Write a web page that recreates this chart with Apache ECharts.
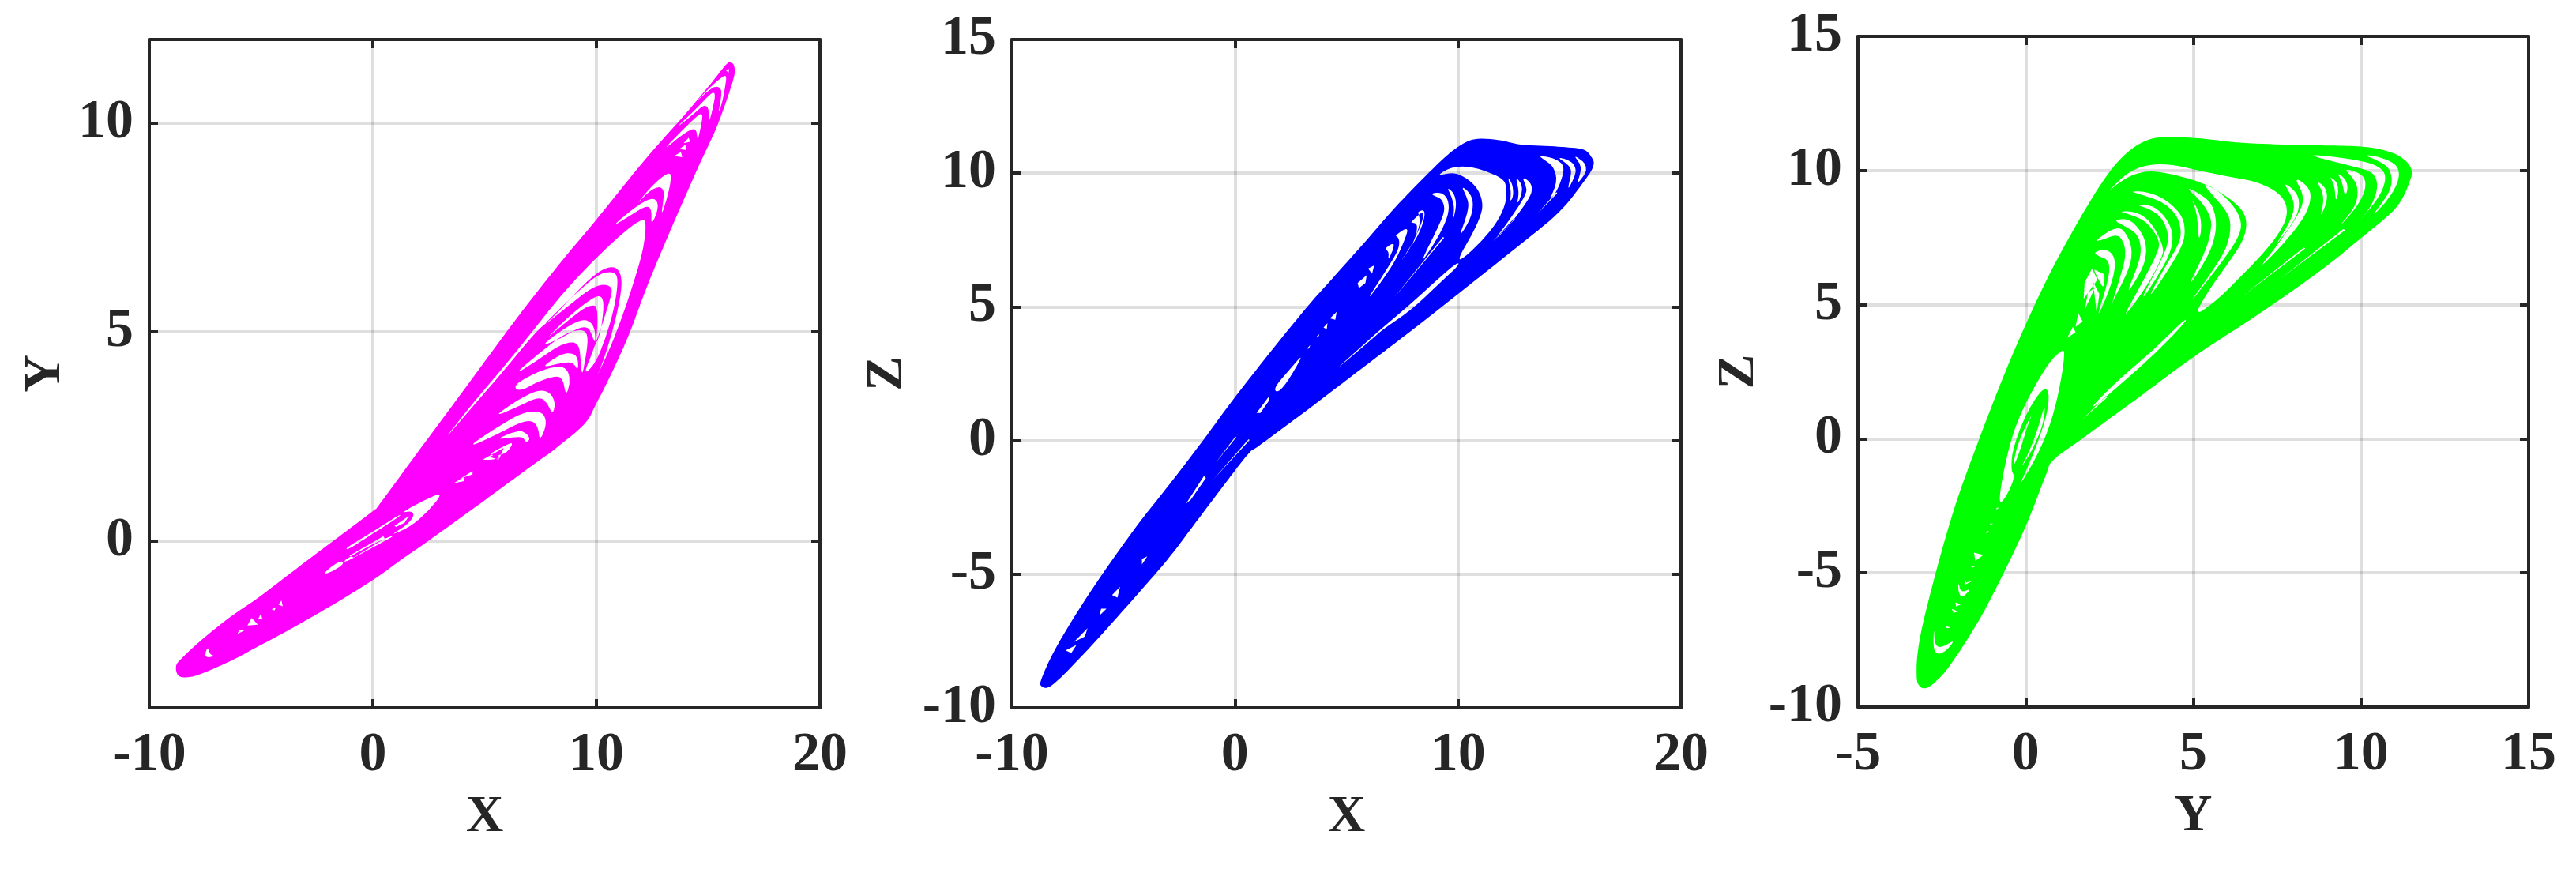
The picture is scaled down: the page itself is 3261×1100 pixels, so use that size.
<!DOCTYPE html>
<html><head><meta charset="utf-8">
<style>html,body{margin:0;padding:0;background:#fff}#c{width:3261px;height:1100px}</style>
<script src="https://cdn.jsdelivr.net/npm/echarts@6/dist/echarts.min.js"></script>
</head><body><div id="c"></div>
<script>
// ---- Panel 1: X-Y phase portrait ----
const xyOutline=[[-8.8,-3.0],[-8.52,-2.8],[-7.63,-2.36],[-6.37,-1.82],[-5.1,-1.35],[-3.4,-0.66],[-2.06,-0.12],[0,0.71],[0.27,0.85],[1.94,2.07],[4.14,3.66],[6.6,5.44],[8.55,6.76],[10,7.69],[12.2,9.14],[13.95,10.2],[15.2,11],[15.8,11.4],[16.03,11.45],[16.18,11.32],[16.1,11],[15.4,9.93],[14.44,8.81],[13.2,7.29],[12.23,6.04],[11.48,4.97],[10.76,4.1],[10,3.29],[9.47,2.8],[8.17,2.21],[7.33,1.88],[5.03,0.98],[2.49,0],[1.2,-0.48],[0,-0.94],[-1.94,-1.58],[-3.84,-2.16],[-5.1,-2.52],[-6.37,-2.88],[-7.76,-3.2],[-8.39,-3.27],[-8.71,-3.22]];
const xyGaps=[
[[2.98,2.28],[4.51,3.32],[5.81,4.13],[7.23,5.07],[8.41,5.88],[9.82,6.69],[11.24,7.4],[12.07,7.72],[12.21,7.63],[12.18,7.26],[12.01,6.79],[11.59,6.05],[11.12,5.31],[10.53,4.5],[9.65,3.53],[10.18,4.1],[10.71,4.97],[11.06,5.78],[11.15,6.25],[11,6.49],[10.71,6.57],[10.24,6.49],[9.59,6.22],[8.76,5.75],[7.93,5.28],[7.34,5.04],[5.81,4.04],[4.51,3.24]],
[[7.46,5.07],[8.41,5.58],[9.35,6.05],[10.12,6.39],[10.71,6.45],[10.94,6.35],[10.94,6.05],[10.77,5.51],[10.41,4.84],[9.94,4.23],[9.41,3.96],[9.82,4.5],[10.3,5.24],[10.65,5.85],[10.71,6.02],[10.53,6.13],[10.12,6.13],[9.59,5.98],[8.64,5.58]],
[[7.64,4.77],[8.64,5.31],[9.47,5.68],[10.06,5.88],[10.3,5.81],[10.32,5.51],[10.18,4.97],[9.96,4.67],[10.06,5.17],[10.03,5.58],[9.88,5.65],[9.47,5.58],[8.64,5.24]],
[[7.46,4.64],[8.52,5.07],[9.35,5.31],[9.76,5.24],[9.94,5.04],[9.96,4.7],[9.76,4.97],[9.64,5.11],[9.23,5.11],[8.41,4.84]],
[[6.28,3.96],[7.46,4.5],[8.52,4.94],[9.29,5.07],[9.59,4.97],[9.61,4.7],[9.49,4.3],[9.35,3.93],[9.29,4.37],[9.23,4.67],[8.94,4.77],[8.29,4.67],[7.23,4.27]],
[[7.46,4.13],[8.41,4.47],[8.94,4.5],[9.18,4.37],[9.18,4.06],[8.97,4.27],[8.52,4.27]],
[[6.28,3.73],[7.46,4.07],[8.41,4.2],[8.76,4.06],[8.82,3.76],[8.64,3.46],[8.52,3.83],[8.29,3.96],[7.46,3.83],[6.52,3.56]],
[[5.34,2.95],[6.52,3.39],[7.46,3.63],[7.99,3.53],[8.17,3.26],[8.03,3.02],[7.82,3.29],[7.46,3.46],[6.52,3.22]],
[[4.16,2.21],[5.34,2.65],[6.75,3.09],[7.46,3.09],[7.7,2.99],[7.76,2.75],[7.46,2.38],[7.4,2.72],[7.11,2.89],[6.52,2.82],[5.58,2.55]],
[[5.45,2.42],[6.52,2.65],[6.87,2.58],[7.05,2.42],[6.81,2.35],[6.75,2.48],[6.28,2.48]],
[[5.1,2.05],[5.93,2.28],[6.26,2.36],[6.16,2.21],[5.81,2.05]],
[[5.22,2.01],[5.63,2.11],[5.63,1.94]],
[[15.78,11.27],[15.94,11.29],[15.91,11.2]],
[[14.37,10.46],[15.02,10.83],[15.67,11.13],[15.82,11.13],[15.78,10.93],[15.63,10.49],[15.43,10.19],[15.59,10.63],[15.59,10.83],[15.31,10.89],[14.9,10.73]],
[[13.42,9.82],[14.43,10.32],[15.14,10.73],[15.31,10.73],[15.28,10.52],[15.02,9.95],[15.04,10.36],[14.8,10.44],[14.43,10.25]],
[[12.89,9.31],[13.96,9.89],[14.61,10.22],[14.76,10.21],[14.69,9.95],[14.52,9.55],[14.49,9.82],[14.31,9.87],[13.84,9.72]],
[[13.9,9.52],[14.13,9.65],[14.19,9.55]],
[[13.72,9.38],[13.98,9.48],[14.02,9.35]],
[[13.48,9.21],[13.78,9.31],[13.84,9.18]],
[[11.71,8],[12.54,8.54],[13.31,8.86],[13.34,8.61],[13.13,8.14],[12.89,7.77],[13.01,8.2],[13.01,8.41],[12.77,8.49],[12.3,8.34]],
[[10.65,7.5],[11.59,7.93],[12.36,8.2],[12.71,8.17],[12.77,7.93],[12.44,7.53],[12.48,7.93],[12.24,8.03],[11.47,7.77]],
[[3.19,1.18],[2.24,0.96],[1.23,0.66],[1.73,0.72],[1.86,0.59],[1.48,0.36],[0.72,0.11],[1.67,0.33],[2.49,0.71]],
[[-1.24,-0.18],[-0.04,0.2],[1.23,0.64],[1.23,0.59],[-0.04,0.16],[-1.11,-0.22]],
[[0.97,0.36],[1.61,0.59],[1.42,0.43],[1.04,0.33]],
[[-1.05,-0.36],[0.47,0.11],[0.53,0.05],[-0.86,-0.4]],
[[-1.3,-0.47],[-0.04,-0.08],[1.23,0.2],[0.03,-0.15],[-1.24,-0.52]],
[[-2.25,-0.81],[-1.81,-0.59],[-1.37,-0.47],[-1.3,-0.56],[-1.81,-0.74]],
[[-4.22,-1.53],[-4.09,-1.43],[-4.03,-1.57]],
[[-5.61,-2.03],[-5.42,-1.85],[-5.14,-2.01]],
[[-5.13,-1.87],[-5,-1.74],[-4.95,-1.87]],
[[-7.53,-2.75],[-7.38,-2.52],[-7.28,-2.74],[-7.03,-2.75],[-7.38,-2.8]],
[[-6.05,-2.23],[-5.99,-2.14],[-5.73,-2.14]],
[[-4.53,-1.64],[-4.34,-1.6],[-4.4,-1.67]],
[[3.63,1.38],[4.08,1.53],[4.08,1.43]],
[[3.95,1.5],[4.46,1.67],[4.46,1.59]],
[[4.9,1.94],[5.85,2.22],[5.66,1.97],[5.28,1.94]]
];
// ---- Panel 2: X-Z ----
const xzOutline=[[-8.68,-9.19],[-8.63,-8.82],[-7.95,-7.64],[-6.49,-5.67],[-4.54,-3.35],[-2.92,-1.62],[-1.39,0.05],[0,1.62],[1.79,3.52],[3.32,5.08],[4.38,6.07],[5.91,7.5],[7.33,8.85],[8.88,10.17],[9.85,10.89],[10.7,11.26],[11.8,11.24],[12.9,11.06],[14.49,10.99],[15.59,10.89],[16,10.58],[16.07,10.27],[15.7,9.75],[14.49,8.51],[12.54,7.16],[10,5.48],[7.66,3.95],[5.22,2.4],[4.15,1.72],[2.78,0.85],[1.08,-0.2],[0.67,-0.44],[0,-1.13],[-1.92,-3.25],[-3.07,-4.5],[-5.27,-6.6],[-6.98,-8.16],[-8.2,-9.15]];
const xzGaps=[
[[9.02,9.88],[9.67,10.23],[10.5,10.26],[11.33,10.06],[12.06,9.78],[12.18,9.44],[12.16,8.9],[11.8,8.21],[11.09,7.47],[10.14,6.74],[10.02,6.83],[10.68,7.77],[11.07,8.5],[11.11,8.95],[10.85,9.49],[10.2,9.93],[9.67,10.03]],
[[4.2,2.41],[6.15,3.87],[6.59,4.2],[7.77,5.03],[9.08,6.02],[9.96,6.66],[10.08,6.59],[9.14,5.85],[7.89,4.87],[6.59,4.13],[6.15,3.8]],
[[8.78,9.24],[9.25,9.29],[9.55,9.05],[9.61,8.6],[9.37,8.01],[8.84,7.23],[8.25,6.54],[9.25,8.21],[9.43,8.7],[9.25,9.05],[8.95,9.14]],
[[9.49,9.49],[9.85,9.24],[9.94,8.75],[9.73,8.11],[9.85,8.65],[9.73,9.1]],
[[10.14,9.54],[10.56,9.24],[10.7,8.85],[10.56,8.26],[10.02,7.57],[10.32,8.21],[10.5,8.8],[10.38,9.14]],
[[8.19,8.55],[8.52,8.65],[8.48,8.21],[8.13,7.52],[7.3,6.54],[8.01,7.42],[8.31,8.11],[8.25,8.45]],
[[7.86,8.15],[8.5,8.64],[8.38,8.1],[7.91,7.32],[7.09,5.94],[8.09,7.51],[8.2,8.1],[7.97,8.15]],
[[7.15,7.66],[7.8,8.01],[7.62,7.51],[7.09,6.53],[5.68,4.96],[7.2,6.9],[7.39,7.33],[7.33,7.61]],
[[6.68,7.17],[7.15,7.42],[7.09,7.12],[6.86,6.73],[6.91,7.07]],
[[13.58,10.67],[14.29,10.57],[14.76,10.32],[14.7,9.88],[14.41,9.29],[14.05,8.9],[14.47,9.69],[14.29,10.23],[13.93,10.47]],
[[14.41,10.62],[15.06,10.47],[15.3,10.18],[15.24,9.88],[14.88,9.29],[15.12,10.08],[14.94,10.32]],
[[15.18,10.67],[15.59,10.47],[15.77,10.23],[15.71,9.98],[15.3,9.54],[15.53,10.08],[15.47,10.37]],
[[12.22,9.88],[12.45,9.59],[12.49,9.14],[12.33,8.9],[12.39,9.34]],
[[12.57,9.88],[12.87,9.59],[12.87,9.19],[12.63,8.8],[12.75,9.29]],
[[12.87,9.88],[13.28,9.64],[13.34,9.29],[12.99,8.8],[12.27,8.01],[11.56,7.42],[12.27,8.2],[13.1,9.24],[13.04,9.54]],
[[11.56,7.44],[12.51,8.31],[12.55,8.28]],
[[13.58,8.5],[14.41,9.29],[14.45,9.25]],
[[7.09,5.3],[9.33,7.61],[9.38,7.58]],
[[5.5,5.89],[5.91,6.19],[5.85,5.89],[5.56,5.7]],
[[5.97,6.43],[6.24,6.55],[6.15,6.24]],
[[4.26,4.57],[4.56,4.81],[4.5,4.52]],
[[3.97,4.22],[4.15,4.39],[4.12,4.17]],
[[3.65,3.88],[3.79,3.98],[3.73,3.86]],
[[3.23,3.44],[3.38,3.57],[3.32,3.44]],
[[3.11,3.29],[2.5,2.7],[1.73,1.96],[1.91,1.77],[2.38,2.21]],
[[0.97,1.03],[1.5,1.62],[1.55,1.52],[1.14,1.03]],
[[-2.19,-2.36],[-1.39,-1.33],[-1.3,-1.4],[-1.98,-2.21]],
[[-0.98,-1.47],[0.61,0.05],[0.66,0.02]],
[[-0.86,-0.83],[0.02,0.15],[0.06,0.12]],
[[-4.17,-4.43],[-3.93,-4.33],[-4.17,-4.64]],
[[-5.51,-5.78],[-5.15,-5.47],[-5.27,-5.88]],
[[-6,-6.29],[-5.76,-6.29],[-6.07,-6.54]],
[[-7.59,-7.85],[-7.1,-7.64],[-7.34,-7.95]],
[[-7.22,-7.54],[-6.61,-7.02],[-6.73,-7.33]]
];
// ---- Panel 3: Y-Z ----
const yzOutline=[[-3.25,-8.74],[-3.2,-7.81],[-2.92,-6.16],[-2.19,-2.85],[-1.37,0.04],[-0.39,3.14],[0.59,5.83],[1.57,8.1],[2.39,9.75],[3.04,10.68],[3.69,11.16],[4.35,11.24],[5.16,11.2],[6.47,11.03],[8.1,10.95],[10,10.89],[10.88,10.68],[11.29,10.41],[11.5,10.06],[11.47,9.65],[11.05,8.62],[10,7.48],[8.76,6.24],[7.12,4.79],[5,3.04],[3.2,1.38],[1.73,0.04],[0.83,-0.79],[0.59,-1.4],[-0.07,-3.47],[-1.21,-6.36],[-2.19,-8.33],[-2.68,-9.05],[-3,-9.3],[-3.2,-9.15]];
const yzGaps=[
[[2.41,9.15],[3.03,9.93],[3.66,10.23],[4.37,10.23],[5.16,10],[6.18,9.74],[6.89,9.59],[7.52,9.2],[7.79,8.75],[7.79,8.21],[7.52,7.58],[7.04,6.84],[6.42,6.05],[5.71,5.17],[5,4.53],[5.47,5.56],[6.1,6.64],[6.49,7.38],[6.61,8.02],[6.49,8.51],[6.1,8.95],[5.39,9.49],[4.53,9.83],[3.74,10],[3.19,9.86],[2.72,9.49]],
[[2.01,1.25],[2.8,2.23],[3.82,3.31],[4.76,4.48],[4.8,4.39],[3.9,3.21],[2.88,2.08],[2.01,1.15]],
[[6.42,5.27],[8.3,7.13],[8.34,7.09]],
[[7.59,5.96],[9.48,7.82],[9.52,7.77]],
[[10.03,10.62],[10.66,10.47],[11.05,10.23],[11.16,9.88],[11.05,9.39],[10.74,8.8],[10.27,8.21],[10.82,9.1],[10.94,9.59],[10.86,10.08],[10.58,10.32]],
[[8.3,10.62],[9.48,10.47],[10.35,10.27],[10.7,9.98],[10.74,9.59],[10.54,9],[10.03,8.21],[9.48,7.58],[10.19,8.41],[10.5,9.2],[10.46,9.78],[10.19,10.03],[9.48,10.23]],
[[9.48,10.08],[9.95,9.93],[10.15,9.64],[10.11,9.15],[9.8,8.51],[9.25,7.77],[9.88,8.7],[9.91,9.39],[9.76,9.73]],
[[9.28,9.93],[9.54,9.69],[9.62,9.34],[9.52,9],[9.44,9.59]],
[[9.05,9.78],[9.28,9.59],[9.34,9.2],[9.25,8.8],[9.21,9.49]],
[[8.66,9.64],[8.97,9.34],[9,8.85],[8.77,8.21],[8.89,8.8],[8.85,9.24]],
[[7.99,9.78],[8.46,9.39],[8.52,8.9],[8.3,8.21],[7.67,7.23],[6.89,6.25],[7.52,7.23],[8.22,8.51],[8.3,9.1]],
[[7.67,9.59],[8.07,9.2],[8.18,8.8],[8.07,8.21],[7.36,7.04],[7.91,8.12],[8.03,8.7],[7.91,9.1]],
[[5.24,9.59],[5.79,9.2],[6.26,8.61],[6.46,8.02],[6.34,7.48],[5.94,6.74],[5.31,5.71],[4.84,4.98],[5.47,6.05],[6.02,7.13],[6.14,8.02],[5.98,8.51],[5.63,9]],
[[4.72,9.44],[5.46,8.95],[5.66,8.41],[5.69,7.72],[5.47,6.84],[4.76,5.47],[5.39,7.04],[5.55,7.87],[5.51,8.31],[5.24,8.85]],
[[4.92,9],[5.2,8.41],[5.25,7.82],[5.16,7.33],[5.12,8.41]],
[[3.07,9.24],[3.66,9.2],[4.21,8.9],[4.69,8.31],[4.76,7.72],[4.69,7.23],[4.29,6.35],[3.58,5.07],[4.13,6.35],[4.57,7.23],[4.65,7.72],[4.53,8.31],[4.13,8.8],[3.58,9.05]],
[[3.23,8.75],[3.82,8.7],[4.21,8.21],[4.41,7.63],[4.33,6.94],[3.9,5.96],[3.35,4.98],[4.13,6.84],[4.29,7.53],[4.09,8.21],[3.74,8.55]],
[[2.72,8.49],[3.35,8.46],[3.78,8.02],[4.13,7.13],[4.06,6.74],[3.66,5.76],[2.8,4.29],[3.5,5.86],[3.98,7.04],[3.98,7.43],[3.66,8.02],[3.27,8.31]],
[[2.6,8.16],[3.11,8.21],[3.51,7.63],[3.62,7.04],[3.51,6.35],[2.96,5.27],[3.35,6.45],[3.46,7.04],[3.35,7.63],[2.96,7.92]],
[[2.01,7.33],[2.76,7.98],[3.07,7.53],[3.19,6.94],[3.07,6.25],[2.41,4.68],[2.01,2.82],[2.91,6.35],[2.99,6.94],[2.91,7.38],[2.72,7.63],[2.33,7.43]],
[[2.01,6.94],[2.37,7.09],[2.64,6.84],[2.68,6.35],[2.48,5.47],[2.09,4.39],[2.41,5.66],[2.52,6.35],[2.44,6.69],[2.2,6.79]],
[[2.01,6.35],[2.2,6.2],[2.37,6.15],[2.33,5.56],[2.17,5.96]],
[[2.01,5.86],[2.2,5.39],[2.12,4.68]],
[[1.76,5.83],[1.98,6.34],[2.14,5.93],[1.73,5.21]],
[[1.86,5.45],[2.06,5.62],[1.76,4.79]],
[[1.57,4.69],[1.7,4.38],[1.49,4.17]],
[[1.41,4.17],[1.49,3.97],[1.24,3.76]],
[[1.13,3.35],[0.75,2.93],[0.34,2.11],[-0.15,0.97],[-0.47,-0.17],[-0.72,-1.61],[-0.8,-2.48],[-0.56,-2.13],[-0.31,-1.4],[-0.44,-1.2],[-0.39,-0.37],[0.02,0.97],[0.51,1.9],[0.7,1.8],[0.67,1.07],[0.42,0.04],[0.02,-1.2],[-0.26,-1.92],[0.42,-0.48],[0.83,0.87],[1.08,2.31],[1.16,3.14]],
[[0.56,1.59],[0.1,0.76],[-0.26,-0.27],[-0.39,-1.1],[-0.2,-0.58],[0.02,0.35],[0.23,1.07]],
[[0.59,1.38],[0.54,0.56],[0.18,-0.48],[-0.18,-1.16],[0.07,-0.58],[0.34,0.25]],
[[-1.54,-4.24],[-1.26,-4.33],[-1.5,-4.55]],
[[-1.61,-4.73],[-1.46,-4.73],[-1.61,-4.82]],
[[-1.83,-5.12],[-1.77,-5.36],[-1.57,-5.29],[-1.79,-5.43]],
[[-2.01,-5.31],[-1.93,-5.75],[-1.61,-5.56],[-1.89,-5.95],[-2.01,-5.71]],
[[-2.1,-6.1],[-1.93,-6.17],[-2.07,-6.25]],
[[-2.2,-6.34],[-2.01,-6.44],[-2.15,-6.49]],
[[-2.4,-6.98],[-2.23,-7.03],[-2.34,-7.06]],
[[-2.73,-6.98],[-2.72,-7.67],[-2.52,-7.81],[-2.09,-7.47],[-2.36,-7.91],[-2.64,-8.06],[-2.76,-7.81]],
[[-1.14,-3.43],[-1.06,-3.47],[-1.18,-3.53]],
[[-1.05,-3.16],[-0.97,-3.16],[-1.08,-3.23]],
[[-0.87,-2.57],[-0.79,-2.57],[-0.87,-2.64]],
[[1.69,0.72],[2.4,1.6],[2.44,1.55]]
];
// ---- Axes ----
const xTicks12=[-10,0,10,20];
const yTicks1=[0,5,10];
const zTicks=[-10,-5,0,5,10,15];
const yTicks3=[-5,0,5,10,15];

const INK='#262626', FONT='Liberation Serif';
const panels=[
 {outline:xyOutline,gaps:xyGaps,color:'#ff00ff',rect:{left:189,top:50,width:849,height:846},xName:'X',yName:'Y',xMin:-10,xMax:20,xVals:xTicks12,yMin:-4,yMax:12,yVals:yTicks1,yGap:98},
 {outline:xzOutline,gaps:xzGaps,color:'#0000ff',rect:{left:1281,top:50,width:847,height:846},xName:'X',yName:'Z',xMin:-10,xMax:20,xVals:xTicks12,yMin:-10,yMax:15,yVals:zTicks,yGap:124},
 {outline:yzOutline,gaps:yzGaps,color:'#00ff00',rect:{left:2352,top:46,width:849,height:849},xName:'Y',yName:'Z',xMin:-5,xMax:15,xVals:yTicks3,yMin:-10,yMax:15,yVals:zTicks,yGap:116}
];
function signedArea(p){let a=0;for(let i=0;i<p.length;i++){const q=p[(i+1)%p.length];a+=p[i][0]*q[1]-q[0]*p[i][1];}return a;}
const f=v=>v.toFixed(2);
function gapPath(p){
  let r=p.slice(); if(signedArea(r)>0) r.reverse();
  if(r.length<5) return 'M'+r.map(q=>f(q[0])+' '+f(q[1])).join('L')+'Z';
  const mid=(a,b)=>[(a[0]+b[0])/2,(a[1]+b[1])/2];
  const s=mid(r[r.length-1],r[0]); let d='M'+f(s[0])+' '+f(s[1]);
  for(let i=0;i<r.length;i++){const m=mid(r[i],r[(i+1)%r.length]);d+='Q'+f(r[i][0])+' '+f(r[i][1])+' '+f(m[0])+' '+f(m[1]);}
  return d+'Z';
}
function outlinePath(p){
  let r=p.slice(); if(signedArea(r)<0) r.reverse();
  const n=r.length; let d='M'+f(r[0][0])+' '+f(r[0][1]);
  for(let i=0;i<n;i++){
    const a=r[(i-1+n)%n],b=r[i],c=r[(i+1)%n],e=r[(i+2)%n];
    d+='C'+f(b[0]+(c[0]-a[0])/6)+' '+f(b[1]+(c[1]-a[1])/6)+' '+f(c[0]-(e[0]-b[0])/6)+' '+f(c[1]-(e[1]-b[1])/6)+' '+f(c[0])+' '+f(c[1]);
  }
  return d+'Z';
}
const grid=[],xAxis=[],yAxis=[],series=[];
panels.forEach((P,i)=>{
  grid.push(Object.assign({show:false},P.rect));
  const common=()=>({
    axisLine:{show:true,onZero:false,lineStyle:{color:INK,width:4}},
    axisTick:{show:true,inside:true,length:11,lineStyle:{color:INK,width:4}},
  });
  const xBase=(primary)=>{const c=common();c.axisTick.customValues=P.xVals;return Object.assign(c,{type:'value',gridIndex:i,min:P.xMin,max:P.xMax,position:primary?'bottom':'top',
    splitLine:{show:primary,lineStyle:{color:'rgba(38,38,38,0.15)',width:4}}});};
  const yBase=(primary)=>{const c=common();c.axisTick.customValues=P.yVals;return Object.assign(c,{type:'value',gridIndex:i,min:P.yMin,max:P.yMax,position:primary?'left':'right',
    splitLine:{show:primary,lineStyle:{color:'rgba(38,38,38,0.15)',width:4}}});};
  const lab=(vals,m)=>({show:true,customValues:vals,color:INK,fontFamily:FONT,fontWeight:'bold',fontSize:70,margin:m,showMinLabel:true,showMaxLabel:true});
  xAxis.push(Object.assign(xBase(true),{name:P.xName,nameLocation:'middle',nameGap:106,nameTextStyle:{color:INK,fontFamily:FONT,fontWeight:'bold',fontSize:66},axisLabel:lab(P.xVals,26)}));
  xAxis.push(Object.assign(xBase(false),{axisLabel:{show:false}}));
  yAxis.push(Object.assign(yBase(true),{name:P.yName,nameLocation:'middle',nameGap:P.yGap,nameTextStyle:{color:INK,fontFamily:FONT,fontWeight:'bold',fontSize:66},axisLabel:lab(P.yVals,20)}));
  yAxis.push(Object.assign(yBase(false),{axisLabel:{show:false}}));
  const rows=[];
  P.outline.forEach(q=>rows.push([q[0],q[1],0]));
  P.gaps.forEach((g,k)=>g.forEach(q=>rows.push([q[0],q[1],k+1])));
  series.push({type:'custom',xAxisIndex:i*2,yAxisIndex:i*2,coordinateSystem:'cartesian2d',silent:true,animation:false,clip:false,
    encode:{x:0,y:1},data:rows,
    renderItem:(params,api)=>{
      if(params.dataIndex!==0) return null;
      const px=q=>api.coord([q[0],q[1]]);
      let d=outlinePath(P.outline.map(px));
      P.gaps.forEach(g=>{d+=gapPath(g.map(px));});
      return {type:'path',shape:{pathData:d},style:{fill:P.color,stroke:null}};
    }});
});
const chart=echarts.init(document.getElementById('c'),null,{renderer:'canvas'});
chart.setOption({animation:false,backgroundColor:'#ffffff',grid,xAxis,yAxis,series});
</script></body></html>
